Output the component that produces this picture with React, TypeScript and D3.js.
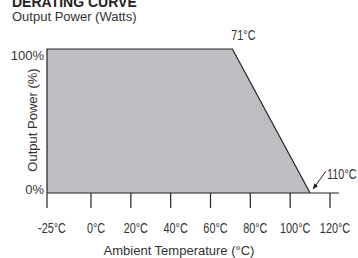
import * as d3 from "d3";

// derating curve data
const tickTemps = [-25, 0, 20, 40, 60, 80, 100, 120];
const curveTemps = [-25, -25, 71, 110];
const curvePower = [0, 100, 100, 0];
const powerTicks = [0, 100];
const axisEndTemp = 124.5;

const W = 358;
const H = 258;

const sans = "'Liberation Sans', Arial, sans-serif";

// condensed label: no narrow font installed, so squeeze horizontally
function Narrow({ x, y, anchor = "start", children }: { x: number; y: number; anchor?: string; children: any }) {
  return (
    <g transform={`translate(${x},${y}) scale(0.75,1)`}>
      <text textAnchor={anchor} fontFamily={sans} fontSize={14.5} fill="#333">
        {children}
      </text>
    </g>
  );
}

export default function App() {
  const x = d3.scaleLinear().domain([-25, 0, 120]).range([47, 91, 330]);
  const y = d3.scaleLinear().domain([0, 100]).range([193, 49]);

  const pts: [number, number][] = curveTemps.map((t, i) => [x(t), y(curvePower[i])]);
  const fillPath = d3.line()(pts) + "Z";
  const outline = d3.line()(pts) || "";

  const top = pts[2];
  const end = pts[3];

  return (
    <svg
      width={W}
      height={H}
      style={{ position: "absolute", left: 0, top: 0, background: "#fff" }}
    >
      <defs>
        <marker id="arr" viewBox="0 0 10 10" refX="9" refY="5" markerWidth="6" markerHeight="6" orient="auto-start-reverse">
          <path d="M0,1 L10,5 L0,9 Z" fill="#222" />
        </marker>
      </defs>

      <text x={12} y={7} fontFamily={sans} fontWeight="bold" fontSize={14} fill="#222">
        DERATING CURVE
      </text>
      <text x={12} y={21} fontFamily={sans} fontSize={13} fill="#333">
        Output Power (Watts)
      </text>

      <path d={fillPath} fill="#bdbec1" />
      <path d={outline} fill="none" stroke="#222" strokeWidth={1.2} />

      {/* x axis */}
      <line x1={x(-25)} x2={x(axisEndTemp)} y1={y(0)} y2={y(0)} stroke="#222" strokeWidth={1.2} />
      {tickTemps.map((t) => (
        <g key={t}>
          <line x1={x(t)} x2={x(t)} y1={y(0)} y2={y(0) + 15} stroke="#333" strokeWidth={1.3} />
          <Narrow x={x(t) + 5} y={233} anchor="middle">
            {t}°C
          </Narrow>
        </g>
      ))}
      <text x={179} y={255} textAnchor="middle" fontFamily={sans} fontSize={13} fill="#333">
        Ambient Temperature (°C)
      </text>

      {/* y labels */}
      {powerTicks.map((p) => (
        <text key={p} x={44} y={y(p) + (p === 100 ? 11 : 1)} textAnchor="end" fontFamily={sans} fontSize={13} fill="#333">
          {p}%
        </text>
      ))}
      <text
        transform={`translate(37,${(y(0) + y(100)) / 2 - 1}) rotate(-90)`}
        textAnchor="middle"
        fontFamily={sans}
        fontSize={13}
        fill="#333"
      >
        Output Power (%)
      </text>

      {/* annotations */}
      <Narrow x={top[0] + 11} y={40} anchor="middle">
        {curveTemps[2]}°C
      </Narrow>
      <Narrow x={end[0] + 17} y={179}>
        {curveTemps[3]}°C
      </Narrow>
      <line
        x1={end[0] + 16}
        y1={171}
        x2={end[0] + 3}
        y2={189}
        stroke="#222"
        strokeWidth={1}
        markerEnd="url(#arr)"
      />
    </svg>
  );
}
